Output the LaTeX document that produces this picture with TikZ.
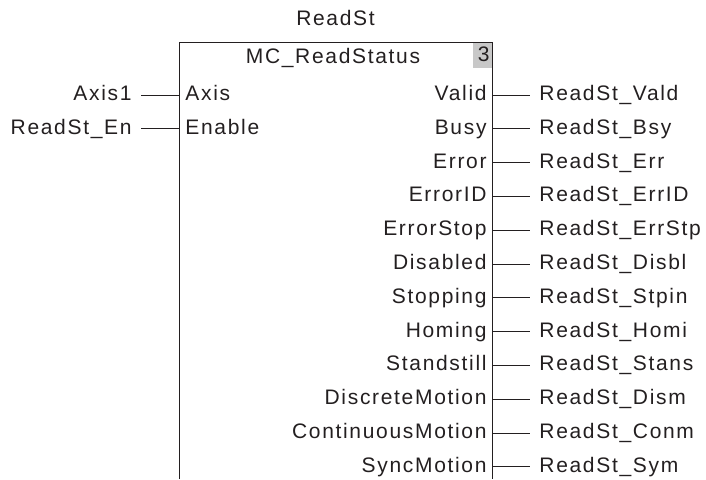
\documentclass[tikz,border=0pt]{standalone}
\usepackage{fontspec}
\setmainfont{Liberation Sans}[LetterSpace=8]
\usepackage{tikz}
\usetikzlibrary{positioning}
\definecolor{inkc}{HTML}{231F20}
\definecolor{numgray}{HTML}{C8C8C8}

\begin{document}
\begin{tikzpicture}[x=1pt, y=-1pt, line width=0.9pt, color=inkc,
    every node/.style={font=\fontsize{21}{24}\selectfont, text height=15pt, text depth=4pt},
    pinin/.style={anchor=west, inner sep=6pt},
    pinout/.style={anchor=east, inner sep=5pt},
    varin/.style={anchor=east, inner sep=9pt},
    varout/.style={anchor=west, inner sep=9pt}]
    \useasboundingbox (0,0) rectangle (706,479);
    \def\ytop{95}
    \def\dy{33.8}

    % 功能块外框
    \draw (179,479) -- (179,42) -- (492,42) -- (492,479);
    \fill[numgray] (473,42.5) rectangle (491.5,68);
    \node[anchor=east, inner sep=2pt] (num) at (492,56) {3};
    \node (inst) at (335.5,20) {ReadSt};
    \node (fbname) at (333,58) {MC\_ReadStatus};

    % 输入
    \foreach \pin/\var [count=\i] in {Axis/Axis1, Enable/ReadSt\_En} {
        \pgfmathsetmacro{\y}{\ytop+(\i-1)*\dy}
        \coordinate (in\i) at (179,\y);
        \node[pinin] (ipin\i) at (in\i) {\pin};
        \node[varin] (ivar\i) at (141,\y) {\var};
        \draw (ivar\i.east) -- (in\i);
    }

    % 输出
    \foreach \pin/\var [count=\i] in {Valid/ReadSt\_Vald, Busy/ReadSt\_Bsy,
        Error/ReadSt\_Err, ErrorID/ReadSt\_ErrID, ErrorStop/ReadSt\_ErrStp,
        Disabled/ReadSt\_Disbl, Stopping/ReadSt\_Stpin, Homing/ReadSt\_Homi,
        Standstill/ReadSt\_Stans, DiscreteMotion/ReadSt\_Dism,
        ContinuousMotion/ReadSt\_Conm, SyncMotion/ReadSt\_Sym} {
        \pgfmathsetmacro{\y}{\ytop+(\i-1)*\dy}
        \coordinate (out\i) at (492,\y);
        \node[pinout] (opin\i) at (out\i) {\pin};
        \node[varout] (ovar\i) at (530,\y) {\var};
        \draw (out\i) -- (ovar\i.west);
    }
\end{tikzpicture}
\end{document}
